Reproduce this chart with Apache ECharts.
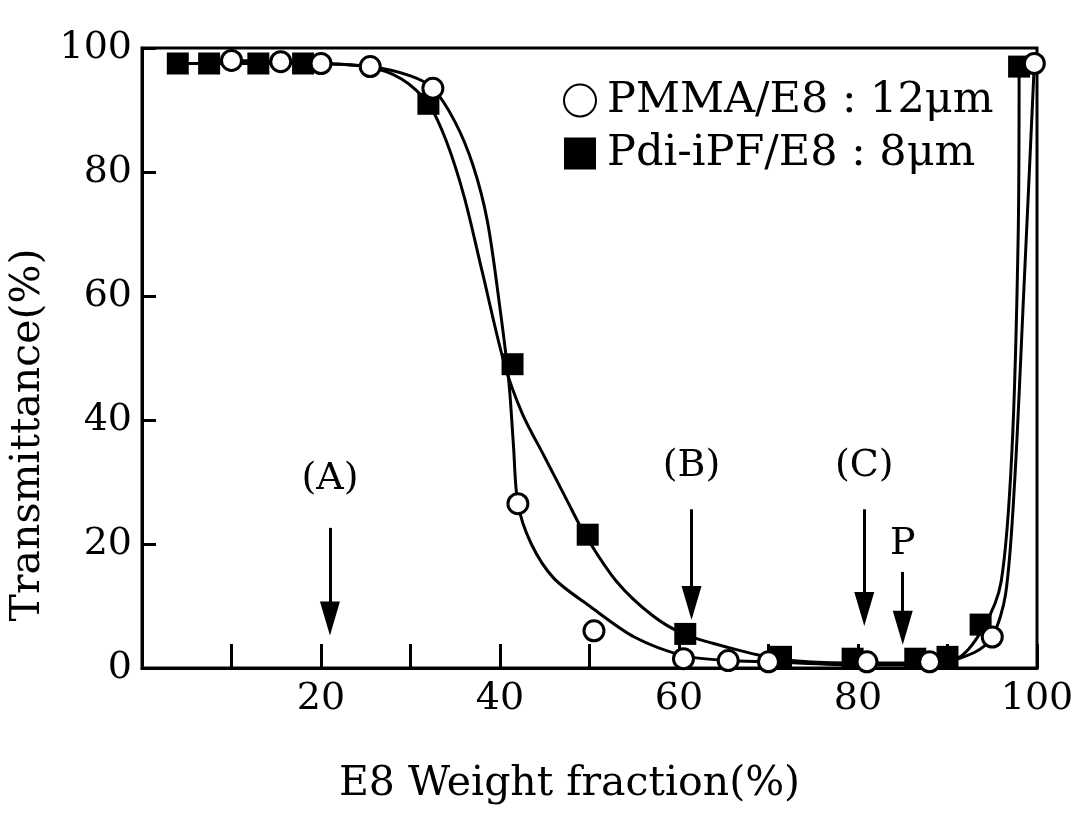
<!DOCTYPE html>
<html>
<head>
<meta charset="utf-8">
<script src="https://cdn.jsdelivr.net/npm/echarts/dist/echarts.min.js"></script>
<style>
  html, body { margin: 0; padding: 0; background: #fff; }
  #Chart { width: 1075px; height: 817px; }
</style>
</head>
<body>
<div id="Chart"></div>
<script>
// measured points (open circles)
const pmmaX = [10, 15.5, 20, 25.5, 32.5, 42, 50.5, 60.5, 65.5, 70, 81, 88, 95, 99.7];
const pmmaY = [98, 97.8, 97.5, 97, 93.5, 26.5, 6, 1.5, 1.2, 1, 1, 1, 5, 97.5];
// measured points (filled squares)
const pdiX = [4, 7.5, 13, 18, 32, 41.4, 49.8, 60.7, 71.4, 79.4, 86.4, 90, 93.7, 98];
const pdiY = [97.5, 97.5, 97.5, 97.5, 91, 49, 21.5, 5.5, 1.8, 1.5, 1.5, 1.8, 7, 97];
// hand-drawn guide curves
const pmmaCurveX = [10, 15.5, 20, 25.5, 30, 32.5, 35, 37, 38.6, 40, 41, 41.5, 42, 43.5, 46, 50, 55, 60.5, 65.5, 70, 80, 88, 93, 95, 96.5, 97.5, 98.5, 99.7];
const pmmaCurveY = [98, 97.8, 97.5, 97, 95.5, 93.5, 88, 81, 72, 58, 46, 36, 26.5, 20, 14.5, 10, 5, 2, 1.2, 1, 0.5, 0.5, 2.5, 5, 12, 30, 60, 97.5];
const pdiCurveX = [4, 7.5, 13, 18, 25, 29, 32, 34, 36, 38, 40.5, 42.5, 45, 47.5, 49.5, 53, 57, 60.5, 65, 71, 79, 86, 91, 94, 96, 97.2, 97.9, 98];
const pdiCurveY = [97.5, 97.5, 97.5, 97.5, 97, 95, 91, 85, 76, 64, 49, 41, 34, 27, 21.5, 14, 8.5, 5.5, 3.5, 1.5, 0.8, 0.8, 1.5, 6.5, 14, 35, 70, 97];
// arrows and their labels
const noteText = ["(A)", "(B)", "(C)", "P"];
const noteX = [21, 61.4, 80.7, 85];
const noteLabelY = [30.4, 32.5, 32.5, 20];
const arrowTop = [22.6, 25.6, 25.6, 15.5];
const arrowTip = [8, 10.5, 9.5, 6.5];
const legendNames = ["PMMA/E8 : 12μm", "Pdi-iPF/E8 : 8μm"];
const xTitle = "E8 Weight fraction(%)";
const yTitle = "Transmittance(%)";

const FONT = "DejaVu Serif";

function zip(xs, ys) {
  return xs.map((x, i) => [x, ys[i]]);
}

function initChart() {
  const chart = echarts.init(document.getElementById("Chart"));
  const option = {
    animation: false,
    backgroundColor: "#fff",
    grid: {
      left: 142,
      right: 38,
      top: 48,
      bottom: 149,
      outerBoundsMode: "none",
      show: true,
      borderColor: "#000",
      borderWidth: 3
    },
    legend: {
      orient: "vertical",
      left: 558,
      top: 74,
      itemWidth: 32,
      itemHeight: 32,
      itemGap: 10,
      data: [
        { name: legendNames[0], icon: "circle" },
        { name: legendNames[1], icon: "rect" }
      ],
      textStyle: {
        fontFamily: FONT,
        fontSize: 43,
        color: "#000",
        padding: [0, 0, 0, 6]
      }
    },
    xAxis: {
      type: "value",
      min: 0,
      max: 100,
      interval: 10,
      name: xTitle,
      nameLocation: "middle",
      nameGap: 96,
      nameTextStyle: {
        fontFamily: FONT,
        fontSize: 41,
        color: "#000",
        padding: [0, 40, 0, 0]
      },
      axisLine: { lineStyle: { color: "#000", width: 3 } },
      axisTick: { inside: true, length: 24, lineStyle: { color: "#000", width: 3 } },
      axisLabel: {
        fontFamily: FONT,
        fontSize: 38,
        color: "#000",
        margin: 12,
        formatter: v => (v > 0 && v % 20 === 0 ? String(v) : "")
      },
      splitLine: { show: false }
    },
    yAxis: {
      type: "value",
      min: 0,
      max: 100,
      interval: 20,
      name: yTitle,
      nameLocation: "middle",
      nameGap: 86,
      nameTextStyle: {
        fontFamily: FONT,
        fontSize: 41,
        color: "#000",
        padding: [0, 154, 0, 0]
      },
      axisLine: { lineStyle: { color: "#000", width: 3 } },
      axisTick: { inside: true, length: 14, lineStyle: { color: "#000", width: 3 } },
      axisLabel: {
        fontFamily: FONT,
        fontSize: 38,
        color: "#000",
        margin: 10
      },
      splitLine: { show: false }
    },
    series: [
      {
        type: "line",
        name: "pdiCurve",
        data: zip(pdiCurveX, pdiCurveY),
        smooth: 0.3,
        symbol: "none",
        lineStyle: { color: "#000", width: 3 },
        z: 2
      },
      {
        type: "line",
        name: "pmmaCurve",
        data: zip(pmmaCurveX, pmmaCurveY),
        smooth: 0.3,
        symbol: "none",
        lineStyle: { color: "#000", width: 3 },
        z: 2
      },
      {
        type: "scatter",
        name: legendNames[1],
        data: zip(pdiX, pdiY),
        symbol: "rect",
        symbolSize: 22,
        itemStyle: { color: "#000", opacity: 1 },
        z: 3
      },
      {
        type: "scatter",
        name: legendNames[0],
        data: zip(pmmaX, pmmaY),
        symbol: "circle",
        symbolSize: 20,
        itemStyle: { color: "#fff", borderColor: "#000", borderWidth: 3, opacity: 1 },
        z: 4
      },
      {
        // 注释: (A) (B) (C) P 与箭头
        type: "scatter",
        name: "notes",
        data: noteText.map((t, i) => ({ name: t, value: [noteX[i], noteLabelY[i]] })),
        symbolSize: 0,
        itemStyle: { opacity: 1 },
        label: {
          show: true,
          position: "inside",
          formatter: p => p.name,
          fontFamily: FONT,
          fontSize: 38,
          color: "#000"
        },
        markLine: {
          silent: true,
          symbol: ["none", "triangle"],
          symbolSize: [20, 34],
          label: { show: false },
          lineStyle: { color: "#000", width: 3, type: "solid", opacity: 1 },
          itemStyle: { color: "#000" },
          data: noteX.map((x, i) => [
            { coord: [x, arrowTop[i]] },
            { coord: [x, arrowTip[i]] }
          ])
        },
        z: 5
      }
    ]
  };
  chart.setOption(option);
}

initChart();
</script>
</body>
</html>
